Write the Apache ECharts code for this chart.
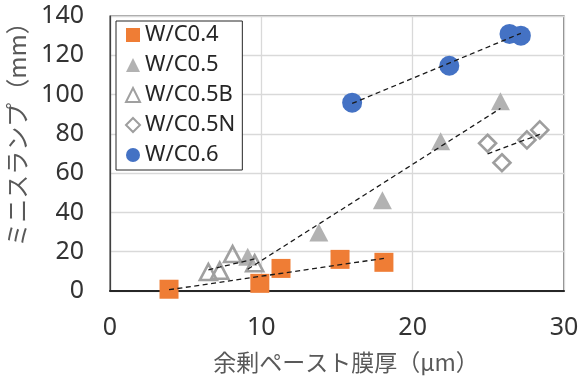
<!DOCTYPE html>
<html>
<head>
<meta charset="utf-8">
<script src="https://cdn.jsdelivr.net/npm/echarts@6/dist/echarts.min.js"></script>
<style>
  html, body { margin: 0; padding: 0; background: #ffffff; }
  #chart { width: 580px; height: 376px; }
</style>
</head>
<body>
<div id="chart"></div>
<script>
// Series names, in legend order
const seriesNames = ['W/C0.4', 'W/C0.5', 'W/C0.5B', 'W/C0.5N', 'W/C0.6'];

// Excess paste film thickness (µm) and mini-slump (mm) per mix
const wc04X  = [3.9, 9.9, 11.3, 15.2, 18.1];
const wc04Y  = [0.9, 3.9, 11.5, 16.1, 14.6];

const wc05X  = [9.1, 13.8, 18.0, 21.85, 25.8];
const wc05Y  = [17.5, 29.8, 46.2, 76.3, 96.6];

const wc05BX = [6.5, 7.25, 8.1, 9.56];
const wc05BY = [9.7, 10.35, 18.8, 14.1];

const wc05NX = [24.95, 25.9, 27.55, 28.4];
const wc05NY = [75.2, 65.3, 76.9, 82.0];

const wc06X  = [16.0, 22.42, 26.4, 27.15];
const wc06Y  = [95.9, 114.7, 130.9, 130.0];

// Axis ticks
const xTicks = [0, 10, 20, 30];
const yTicks = [0, 20, 40, 60, 80, 100, 120, 140];

const xName = '余剰ペースト膜厚（μm）';
const yName = 'ミニスランプ（mm）';

const FONT = "'Noto Sans', 'Noto Sans CJK JP', sans-serif";
const FONT_JP = "'Noto Sans CJK JP', 'Noto Sans', sans-serif";

function pairs(xs, ys) { return xs.map((x, i) => [x, ys[i]]); }

// Least-squares linear fit, drawn across the series' x range
function fitLine(xs, ys) {
  const n = xs.length;
  const mx = xs.reduce((a, b) => a + b, 0) / n;
  const my = ys.reduce((a, b) => a + b, 0) / n;
  let sxy = 0, sxx = 0;
  for (let i = 0; i < n; i++) {
    sxy += (xs[i] - mx) * (ys[i] - my);
    sxx += (xs[i] - mx) * (xs[i] - mx);
  }
  const b = sxy / sxx;
  const a = my - b * mx;
  const x0 = Math.min(...xs), x1 = Math.max(...xs);
  return [[x0, a + b * x0], [x1, a + b * x1]];
}

const groups = [
  { name: seriesNames[0], xs: wc04X,  ys: wc04Y,  symbol: 'rect',     size: 19,
    style: { color: '#EF7D35' } },
  { name: seriesNames[1], xs: wc05X,  ys: wc05Y,  symbol: 'triangle', size: [19, 18],
    style: { color: '#B2B2B2' } },
  { name: seriesNames[2], xs: wc05BX, ys: wc05BY, symbol: 'triangle', size: [17, 16],
    style: { color: 'rgba(255,255,255,0)', borderColor: '#A0A0A0', borderWidth: 2.6 } },
  { name: seriesNames[3], xs: wc05NX, ys: wc05NY, symbol: 'diamond',  size: 17,
    style: { color: 'rgba(255,255,255,0)', borderColor: '#9E9E9E', borderWidth: 2.6 } },
  { name: seriesNames[4], xs: wc06X,  ys: wc06Y,  symbol: 'circle',   size: 20,
    style: { color: '#4472C4' } }
];

const series = [];
groups.forEach(g => {
  series.push({
    name: g.name,
    type: 'scatter',
    data: pairs(g.xs, g.ys),
    symbol: g.symbol,
    symbolSize: g.size,
    itemStyle: Object.assign({ opacity: 1 }, g.style),
    z: 2
  });
});
groups.forEach(g => {
  series.push({
    name: g.name + ' fit',
    type: 'line',
    data: fitLine(g.xs, g.ys),
    symbol: 'none',
    silent: true,
    lineStyle: { color: '#1a1a1a', width: 1.3, type: [5, 3.5] },
    z: 4
  });
});

const chart = echarts.init(document.getElementById('chart'), null, { renderer: 'canvas' });
chart.setOption({
  animation: false,
  backgroundColor: '#ffffff',
  grid: {
    left: 110, right: 16, top: 16, bottom: 85,
    containLabel: false,
    outerBoundsMode: 'none',
    show: true, borderColor: '#404040', borderWidth: 1.2, backgroundColor: 'transparent'
  },
  legend: {
    data: seriesNames,
    orient: 'vertical',
    left: 116, top: 21,
    padding: [3, 7, 4, 9],
    itemGap: 8,
    itemWidth: 14, itemHeight: 14,
    backgroundColor: '#ffffff',
    borderColor: '#262626', borderWidth: 1, borderRadius: 0,
    textStyle: { fontSize: 22, color: '#262626', fontFamily: FONT }
  },
  xAxis: {
    type: 'value',
    min: xTicks[0], max: xTicks[xTicks.length - 1], interval: 10,
    name: xName,
    nameLocation: 'middle',
    nameGap: 60,
    nameTextStyle: { fontSize: 23, color: '#595959', fontFamily: FONT_JP, padding: [0, 0, 0, 18] },
    axisLine: { show: true, onZero: false, lineStyle: { color: '#262626', width: 2 } },
    axisTick: { show: false },
    axisLabel: { fontSize: 25, color: '#333333', fontFamily: FONT, margin: 24 },
    splitLine: { show: true, lineStyle: { color: '#D9D9D9', width: 1.3 } }
  },
  yAxis: {
    type: 'value',
    min: yTicks[0], max: yTicks[yTicks.length - 1], interval: 20,
    name: yName,
    nameLocation: 'middle',
    nameGap: 81,
    nameTextStyle: { fontSize: 24, color: '#595959', fontFamily: FONT_JP, padding: [0, 0, 0, 50] },
    axisLine: { show: true, onZero: false, lineStyle: { color: '#404040', width: 1.2 } },
    axisTick: { show: false },
    axisLabel: { fontSize: 25, color: '#333333', fontFamily: FONT, margin: 26 },
    splitLine: { show: true, lineStyle: { color: '#D9D9D9', width: 1.3 } }
  },
  series: series
});
</script>
</body>
</html>
